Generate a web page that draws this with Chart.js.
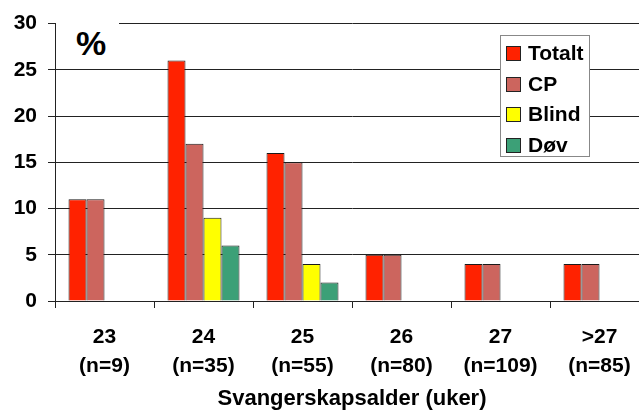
<!DOCTYPE html>
<html>
<head>
<meta charset="utf-8">
<script src="https://cdn.jsdelivr.net/npm/chart.js@4"></script>
<style>
  body { margin: 0; overflow: hidden; background: #fff; }
  .wrap { position: relative; width: 650px; height: 412px; }
  .pct {
    position: absolute; left: 56px; top: 18px; width: 63px; height: 50px;
    background: #fff; font: bold 34px "Liberation Sans", Arial, sans-serif;
    line-height: 50px; padding-left: 20px; box-sizing: border-box;
  }
  .legend {
    position: absolute; left: 500px; top: 35px; width: 90px; height: 122px;
    background: #fff; border: 1px solid #888; box-sizing: border-box;
    font: bold 21px "Liberation Sans", Arial, sans-serif;
  }
  .legend div { position: absolute; left: 5px; height: 30px; line-height: 30px; }
  .legend span {
    display: inline-block; width: 13px; height: 13px; border: 1px solid #222;
    vertical-align: -1px; margin-right: 7px;
  }
</style>
</head>
<body>
<div class="wrap">
  <canvas id="myChart" width="650" height="412"></canvas>
  <div class="pct">%</div>
  <div class="legend" id="legend"></div>
</div>
<script>
const weeks = ['23', '24', '25', '26', '27', '>27'];
const counts = ['(n=9)', '(n=35)', '(n=55)', '(n=80)', '(n=109)', '(n=85)'];
const seriesNames = ['Totalt', 'CP', 'Blind', 'Døv'];
const totalt = [11, 26, 16, 5, 4, 4];
const cp = [11, 17, 15, 5, 4, 4];
const blind = [null, 9, 4, null, null, null];
const dov = [null, 6, 2, null, null, null];
const colors = ['#ff2200', '#cc655e', '#ffff00', '#3ca077'];
const yTicks = [0, 5, 10, 15, 20, 25, 30];

const font = 'Liberation Sans, Arial, sans-serif';

const labels = weeks.map((w, i) => [w, counts[i]]);
const values = [totalt, cp, blind, dov];

const ctx = document.getElementById('myChart');
const myChart = new Chart(ctx, {
    type: 'bar',
    data: {
        labels: labels,
        datasets: seriesNames.map((name, i) => ({
            label: name,
            data: values[i],
            backgroundColor: colors[i],
            borderColor: '#1a1a1a',
            borderWidth: 1,
            categoryPercentage: 0.727,
            barPercentage: 1
        }))
    },
    options: {
        responsive: false,
        animation: false,
        layout: { padding: { top: 21, right: 1, left: 0, bottom: 0 } },
        plugins: {
            legend: { display: false },
            tooltip: { enabled: false }
        },
        scales: {
            y: {
                min: 0,
                max: 30,
                afterFit: (scale) => { scale.width = 55; },
                afterBuildTicks: (scale) => { scale.ticks = yTicks.map(v => ({ value: v })); },
                ticks: {
                    color: '#000',
                    padding: 11,
                    font: { family: font, size: 21, weight: 'bold' }
                },
                grid: {
                    color: '#222',
                    lineWidth: 1,
                    tickLength: 7
                },
                border: { color: '#222' }
            },
            x: {
                afterFit: (scale) => { scale.height = 111; },
                ticks: {
                    color: '#000',
                    padding: 15,
                    maxRotation: 0,
                    autoSkip: false,
                    font: { family: font, size: 21, weight: 'bold', lineHeight: 1.38 }
                },
                grid: {
                    offset: true,
                    drawOnChartArea: false,
                    color: '#222',
                    tickLength: 7
                },
                border: { color: '#222' },
                title: {
                    display: true,
                    text: 'Svangerskapsalder (uker)',
                    color: '#000',
                    padding: { top: 10, bottom: 0 },
                    font: { family: font, size: 22, weight: 'bold' }
                }
            }
        }
    }
});

// legend
const legendBox = document.getElementById('legend');
seriesNames.forEach((name, i) => {
    const item = document.createElement('div');
    item.style.top = (2 + i * 30.5) + 'px';
    item.innerHTML = '<span style="background:' + colors[i] + '"></span>' + name;
    legendBox.appendChild(item);
});
</script>
</body>
</html>
